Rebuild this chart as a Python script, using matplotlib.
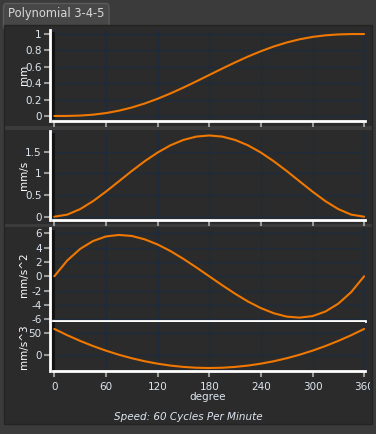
import matplotlib
matplotlib.use('Agg')
import matplotlib.pyplot as plt
from matplotlib.patches import Rectangle, FancyBboxPatch
from matplotlib.transforms import Bbox

# cam motion, polynomial 3-4-5, every 15 degrees
degree = list(range(0, 361, 15))
disp = [0, .0007, .0051, .0160, .0355, .0645, .1035, .1522, .2099, .2752, .3466, .4222, .5,
        .5778, .6534, .7248, .7901, .8478, .8965, .9355, .9645, .9840, .9949, .9993, 1]
vel = [0, .048, .175, .359, .579, .816, 1.055, 1.280, 1.481, 1.648, 1.772, 1.849, 1.875,
       1.849, 1.772, 1.648, 1.481, 1.280, 1.055, .816, .579, .359, .175, .048, 0]
acc = [0, 2.20, 3.82, 4.92, 5.56, 5.77, 5.63, 5.16, 4.44, 3.52, 2.43, 1.24, 0,
       -1.24, -2.43, -3.52, -4.44, -5.16, -5.63, -5.77, -5.56, -4.92, -3.82, -2.20, 0]
jerk = [60, 45.6, 32.5, 20.6, 10, 0.6, -7.5, -14.4, -20, -24.4, -27.5, -29.4, -30,
        -29.4, -27.5, -24.4, -20, -14.4, -7.5, 0.6, 10, 20.6, 32.5, 45.6, 60]
xticks = [0, 60, 120, 180, 240, 300, 360]

W, H = 376, 434
fig = plt.figure(figsize=(W / 100, H / 100), dpi=100)
fig.patch.set_facecolor('#3b3b3b')

def box(x0, y0, x1, y1):
    # pixel box (top-left origin) -> figure fractions
    return [x0 / W, 1 - y1 / H, (x1 - x0) / W, (y1 - y0) / H]

def rect(x0, y0, x1, y1, fc, ec='none'):
    l, b, w, h = box(x0, y0, x1, y1)
    fig.patches.append(Rectangle((l, b), w, h, transform=fig.transFigure,
                                 facecolor=fc, edgecolor=ec, lw=1, zorder=-5))

# tab
l, b, w, h = box(3.5, 3.5, 109, 30)
fig.patches.append(FancyBboxPatch((l, b), w, h, boxstyle='round,pad=0,rounding_size=0.008',
                                  transform=fig.transFigure, facecolor='#474747',
                                  edgecolor='#5a5a5a', lw=1, zorder=-6))
fig.text(8 / W, 1 - 14 / H, 'Polynomial 3-4-5', color='#d8d8d8', fontsize=8.3,
         ha='left', va='center')
# main panel + separators
rect(4, 25, 372, 424, '#2b2b2b', '#232323')
rect(4.5, 126.5, 371.5, 129.5, '#3b3b3b')
rect(4.5, 223.5, 371.5, 226.5, '#3b3b3b')

panels = [
    (disp, 'mm', (30, 120.5), (-0.055, 1.049), [0, 0.2, 0.4, 0.6, 0.8, 1], ['0', '0.2', '0.4', '0.6', '0.8', '1']),
    (vel, 'mm/s', (131, 220), (-0.076, 1.978), [0, 0.5, 1, 1.5], ['0', '0.5', '1', '1.5']),
    (acc, 'mm/s^2', (228, 320.7), (-6.2, 6.74), [-6, -4, -2, 0, 2, 4, 6], ['-6', '-4', '-2', '0', '2', '4', '6']),
    (jerk, 'mm/s^3', (322, 370.7), (-36.2, 76), [0, 50], ['0', '50']),
]

tick_col = '#dde6f0'
axes = []
for i, (vals, lab, (top, bot), ylim, yt, ytl) in enumerate(panels):
    ax = fig.add_axes(box(50, top, 365, bot))
    ax.set_facecolor('#2b2b2b')
    ax.set_xlim(-5, 361)
    ax.set_ylim(*ylim)
    ax.set_xticks(xticks)
    ax.set_yticks(yt)
    ax.set_yticklabels(ytl)
    ax.grid(True, color='#1d2b3d', lw=1)
    ax.set_axisbelow(True)
    for s in ['top', 'right']:
        ax.spines[s].set_visible(False)
    ax.spines['left'].set_color('white')
    ax.spines['left'].set_linewidth(2)
    ax.spines['bottom'].set_color('white')
    ax.spines['bottom'].set_linewidth(2)
    ax.spines['bottom'].set_bounds(-1, 361)
    ax.tick_params(axis='both', colors='#9a9a9a', labelcolor=tick_col, labelsize=7.5,
                   width=1.5, length=4, pad=2)
    ax.axvline(-1.2, ymin=0.04, ymax=0.97, color='#111111', lw=2)
    ax.plot(degree, vals, color='#f07800', lw=1.5, solid_capstyle='round')
    ax.set_ylabel(lab, color='white', fontsize=7.5, labelpad=1)
    ax.yaxis.set_label_coords(-0.068, 0.5)
    if i < 3:
        ax.tick_params(axis='x', labelbottom=False)
    axes.append(ax)

ax = axes[-1]
ax.set_xticklabels([str(t) for t in xticks])
ax.tick_params(axis='x', pad=4)
ax.set_xlabel('degree', color=tick_col, fontsize=7.5, labelpad=0)
clip = Bbox.from_extents(0, 0, 370, H)
for t in ax.get_xticklabels():
    t.set_clip_on(True)
    t.set_clip_box(clip)
fig.text(0.5, 1 - 417 / H, 'Speed: 60 Cycles Per Minute', color=tick_col, fontsize=7.5,
         style='italic', ha='center', va='center')

fig.savefig('out.png', dpi=100, facecolor=fig.get_facecolor())
